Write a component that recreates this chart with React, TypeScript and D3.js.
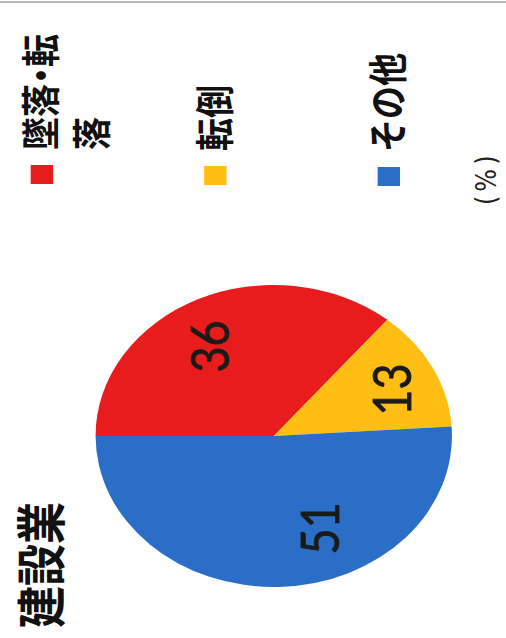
import React from "react";
import * as d3 from "d3";

const categories = ["墜落・転落", "転倒", "その他"];
const values = [36, 13, 51];
const colors = ["#E81C1C", "#FFBE14", "#2A6EC8"];
const legendItems = ["墜落・転落", "転倒", "その他"];
const legendColors = ["#E81C1C", "#FFBE14", "#2A6EC8"];
const title = "建設業";
const unitLabel = "(%)";

const W = 506;
const H = 638;
const K = 1.18; // horizontal stretch of the scanned figure

export default function App() {
  const cx = 202;
  const cy = 232;
  const r = 151;
  const pie = d3.pie<number>().sort(null).value((d) => d);
  const arcs = pie(values);
  const arc = d3.arc<d3.PieArcDatum<number>>().innerRadius(0).outerRadius(r);
  // label placement (best-fit style): radial factor and angular nudge (radians)
  const labelRadius = [0.7, 0.72, 0.66];
  const labelNudge = [-0.12, 0.03, -0.35];

  const legendPos = [
    { u: 454, v: 26 },
    { u: 453, v: 173 },
    { u: 452, v: 320 },
  ];

  const cjk = "'Noto Sans CJK JP', sans-serif";

  return (
    <svg
      width={W}
      height={H}
      style={{ position: "fixed", left: 0, top: 0, background: "#fff" }}
    >
      <rect x={0} y={0} width={W} height={H} fill="#fff" />
      <line x1={0} y1={2} x2={W} y2={2} stroke="#b8b8b8" strokeWidth={2} />
      <g transform={`translate(0,${H}) scale(${K},1) rotate(-90)`}>
        <text x={10} y={51} fontFamily={cjk} fontWeight={700} fontSize={42} fill="#111">
          {title}
        </text>
        <g transform={`translate(${cx},${cy})`}>
          {arcs.map((a, i) => (
            <path key={categories[i]} d={arc(a) || ""} fill={colors[i]} />
          ))}
          {arcs.map((a, i) => {
            const mid = (a.startAngle + a.endAngle) / 2 + labelNudge[i];
            const rr = r * labelRadius[i];
            const x = Math.sin(mid) * rr;
            const y = -Math.cos(mid) * rr;
            return (
              <text
                key={"l" + i}
                x={x}
                y={y}
                textAnchor="middle"
                dominantBaseline="central"
                fontFamily="Lato, 'Open Sans', sans-serif"
                fontSize={45}
                stroke="#1a1a1a"
                strokeWidth={0.7}
                fill="#1a1a1a"
              >
                {values[i]}
              </text>
            );
          })}
        </g>
        {legendItems.map((name, i) => {
          const p = legendPos[i];
          const x0 = p.u + 34;
          const y0 = p.v + 21;
          return (
            <g key={name}>
              <rect x={p.u} y={p.v} width={19} height={19} fill={legendColors[i]} />
              {name === "墜落・転落" ? (
                <>
                  <text x={x0} y={y0} fontFamily={cjk} fontWeight={700} fontSize={33} fill="#111">
                    <tspan>墜落</tspan>
                    <tspan dx={-8}>・</tspan>
                    <tspan dx={-8}>転</tspan>
                  </text>
                  <text x={x0} y={y0 + 43} fontFamily={cjk} fontWeight={700} fontSize={33} fill="#111">
                    落
                  </text>
                </>
              ) : (
                <text x={x0} y={y0} fontFamily={cjk} fontWeight={700} fontSize={33} fill="#111">
                  {name}
                </text>
              )}
            </g>
          );
        })}
        <text
          x={433}
          y={420}
          fontFamily="'DejaVu Sans', sans-serif"
          fontSize={24}
          letterSpacing={4}
          fill="#222"
        >
          {unitLabel}
        </text>
      </g>
    </svg>
  );
}
